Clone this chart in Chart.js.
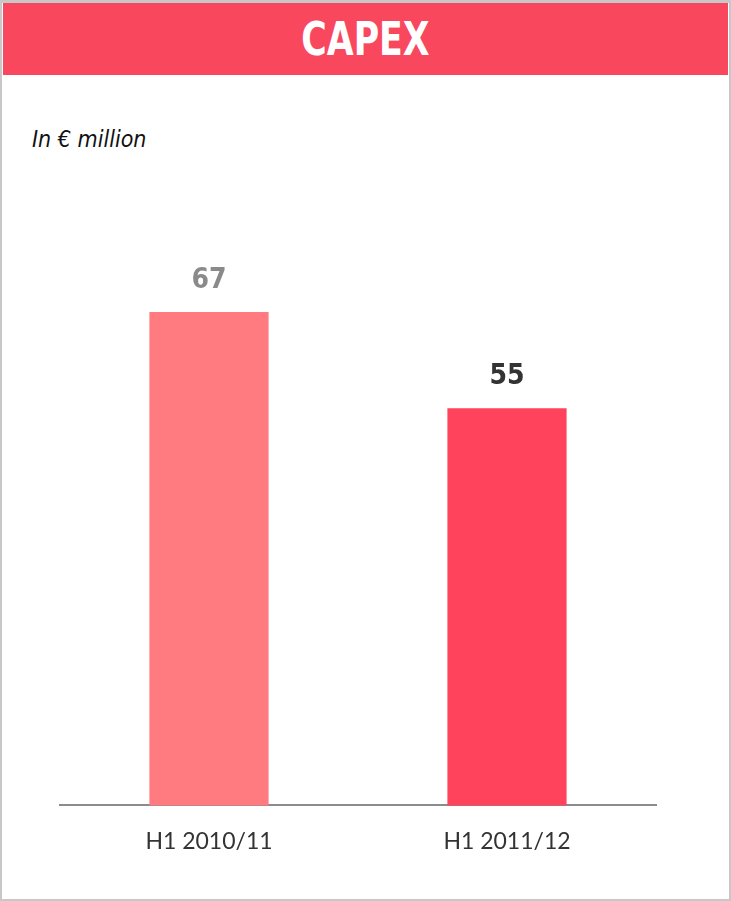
<!DOCTYPE html>
<html>
<head>
<meta charset="utf-8">
<script src="https://cdn.jsdelivr.net/npm/chart.js@4"></script>
<style>
    body { margin: 0; background: #ffffff; }
    #frame {
        position: absolute; left: 0; top: 0; width: 731px; height: 901px;
        box-sizing: border-box; border: 2px solid #c8c8c8; border-top-width: 3px;
    }
    #header {
        position: absolute; left: 3px; top: 3px; width: 725px; height: 72px;
        background: #f9475e; color: #ffffff; text-align: center;
        font-family: "Liberation Sans Narrow", "DejaVu Sans Condensed", "Open Sans", sans-serif;
        font-weight: bold; font-size: 46px; line-height: 72px;
    }
    #header span { display: inline-block; transform: scaleX(0.84); }
    #unit {
        position: absolute; left: 32px; top: 126px; color: #111111;
        font-family: "Liberation Sans Narrow", "DejaVu Sans Condensed", "Open Sans", sans-serif;
        font-style: italic; font-size: 23px;
    }
    #chartBox { position: absolute; left: 0; top: 0; width: 731px; height: 901px; }
</style>
</head>
<body>
<div id="frame"></div>
<div id="header"><span>CAPEX</span></div>
<div id="unit">In € million</div>
<div id="chartBox"><canvas id="myChart"></canvas></div>
<script>
const categories = ['H1 2010/11', 'H1 2011/12'];
const capex = [67, 55];
const valueLabels = ['67', '55'];
const barColors = ['#ff7b7f', '#ff435c'];
const labelColors = ['#8a8a8a', '#333333'];

// draws the number above each bar
const valueLabelPlugin = {
    id: 'valueLabels',
    afterDatasetsDraw(chart) {
        const ctx = chart.ctx;
        const meta = chart.getDatasetMeta(0);
        ctx.save();
        ctx.font = 'bold 28px "Liberation Sans Narrow", "DejaVu Sans Condensed", "Open Sans", sans-serif';
        ctx.textAlign = 'center';
        ctx.textBaseline = 'middle';
        meta.data.forEach(function (bar, i) {
            ctx.fillStyle = labelColors[i];
            ctx.fillText(valueLabels[i], bar.x, bar.y - 31);
        });
        ctx.restore();
    }
};

function drawChart() {
    const ctx = document.getElementById('myChart').getContext('2d');
    new Chart(ctx, {
        type: 'bar',
        data: {
            labels: categories,
            datasets: [{
                data: capex,
                backgroundColor: barColors,
                categoryPercentage: 0.4,
                barPercentage: 1.0
            }]
        },
        options: {
            responsive: true,
            maintainAspectRatio: false,
            animation: false,
            layout: { padding: { left: 60, right: 75, top: 200, bottom: 24 } },
            plugins: {
                legend: { display: false },
                tooltip: { enabled: false }
            },
            scales: {
                x: {
                    grid: { display: false, drawTicks: false },
                    border: { display: true, color: '#8c8c8c', width: 2 },
                    ticks: {
                        color: '#333333',
                        padding: 22,
                        font: { family: 'Lato, "Open Sans", sans-serif', size: 23 }
                    }
                },
                y: {
                    display: false,
                    min: 5.4,
                    max: 81
                }
            }
        },
        plugins: [valueLabelPlugin]
    });
}

drawChart();
</script>
</body>
</html>
